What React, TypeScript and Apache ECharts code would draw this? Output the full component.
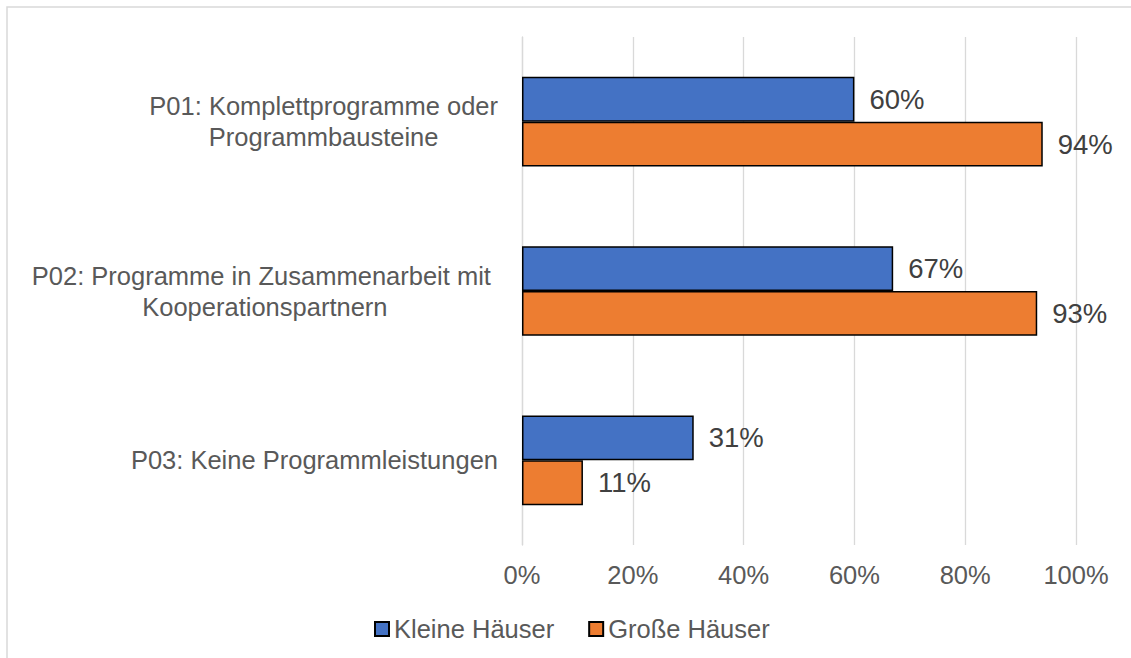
import React, { useEffect, useRef } from "react";
import * as echarts from "echarts";

const categories = [
  "P01: Komplettprogramme oder\nProgrammbausteine",
  "P02: Programme in Zusammenarbeit mit \nKooperationspartnern",
  "P03: Keine Programmleistungen",
];
const seriesNames = ["Kleine Häuser", "Große Häuser"];
const kleineHaeuser = [60, 67, 31];
const grosseHaeuser = [94, 93, 11];
const xTicks = { min: 0, max: 100, interval: 20 };

const FONT = "'Liberation Sans', Arial, sans-serif";

export default function App() {
  const ref = useRef<HTMLDivElement>(null);
  useEffect(() => {
    if (!ref.current) return;
    const chart = echarts.init(ref.current, undefined, { renderer: "svg" });
    const labelStyle = {
      show: true,
      position: "right" as const,
      distance: 15,
      formatter: "{c}%",
      fontFamily: FONT,
      fontSize: 27.5,
      color: "#404040",
    };
    chart.setOption({
      animation: false,
      backgroundColor: "#ffffff",
      textStyle: { fontFamily: FONT },
      graphic: [
        {
          type: "rect",
          shape: { x: 7, y: 7, width: 1200, height: 700 },
          style: { fill: "none", stroke: "#D9D9D9", lineWidth: 1.5 },
          silent: true,
          z: -10,
        },
      ],
      grid: { left: 522, right: 55, top: 37, bottom: 113, containLabel: false },
      legend: {
        left: 369,
        top: 611,
        icon: "rect",
        itemWidth: 14,
        itemHeight: 14,
        itemGap: 34,
        textStyle: { fontFamily: FONT, fontSize: 25.5, color: "#595959" },
        data: seriesNames,
      },
      xAxis: {
        type: "value",
        min: xTicks.min,
        max: xTicks.max,
        interval: xTicks.interval,
        axisLine: { show: false },
        axisTick: { show: false },
        splitLine: { show: true, lineStyle: { color: "#D9D9D9", width: 1.3 } },
        axisLabel: {
          formatter: "{value}%",
          fontFamily: FONT,
          fontSize: 25.5,
          color: "#595959",
          margin: 17,
        },
      },
      yAxis: {
        type: "category",
        inverse: true,
        data: categories,
        axisLine: { show: true, lineStyle: { color: "#D9D9D9", width: 1.3 } },
        axisTick: { show: false },
        axisLabel: {
          margin: 24,
          align: "right",
          formatter: (v: string) =>
            v
              .split("\n")
              .map((l) => `{c|${l}}`)
              .join("\n"),
          rich: {
            c: {
              align: "center",
              fontFamily: FONT,
              fontSize: 25.5,
              lineHeight: 31,
              color: "#595959",
            },
          },
        },
      },
      series: [
        {
          name: seriesNames[0],
          type: "bar",
          data: kleineHaeuser,
          barGap: "0%",
          barCategoryGap: "47%",
          itemStyle: { color: "#4472C4", borderColor: "#000000", borderWidth: 1.5 },
          label: labelStyle,
        },
        {
          name: seriesNames[1],
          type: "bar",
          data: grosseHaeuser,
          barGap: "0%",
          barCategoryGap: "47%",
          itemStyle: { color: "#ED7D31", borderColor: "#000000", borderWidth: 1.5 },
          label: labelStyle,
        },
      ],
    });
    return () => chart.dispose();
  }, []);
  return (
    <div
      ref={ref}
      style={{ position: "fixed", left: 0, top: 0, width: 1131, height: 658 }}
    />
  );
}
